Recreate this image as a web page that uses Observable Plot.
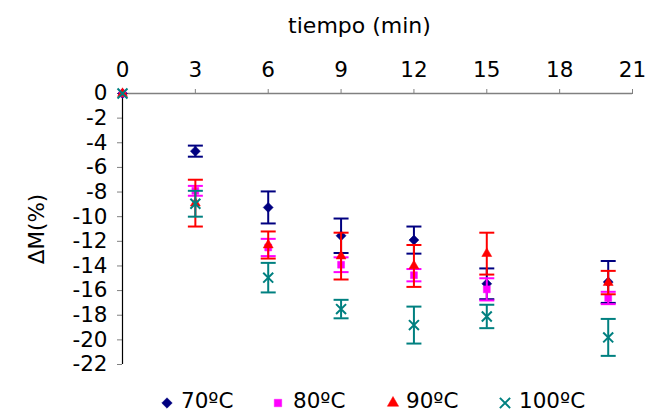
<!DOCTYPE html>
<html>
<head>
<meta charset="utf-8">
<script src="https://cdn.jsdelivr.net/npm/d3@7"></script>
<script src="https://cdn.jsdelivr.net/npm/@observablehq/plot@0.6"></script>
<style>
  body { margin: 0; background: #fff; font-family: "DejaVu Sans", Verdana, sans-serif; }
  #legend { position: relative; width: 646px; height: 28px; font-size: 21.5px; color: #000; }
  #legend .sym { position: absolute; top: 11px; width: 14px; height: 14px; }
  #legend .lab { position: absolute; top: 3px; line-height: 26px; white-space: nowrap; }
</style>
</head>
<body>
<div id="chart"></div>
<div id="legend"></div>
<script>
const times = [0, 3, 6, 9, 12, 15, 20];
const seriesNames = ["70ºC", "80ºC", "90ºC", "100ºC"];
const m70 = [0, -4.68, -9.25, -11.55, -11.9, -15.45, -15.3];
const e70 = [0, 0.45, 1.3, 1.4, 1.1, 1.25, 1.7];
const m80 = [0, -7.9, -12.5, -13.9, -14.75, -15.9, -16.6];
const e80 = [0, 0.4, 0.7, 0.6, 0.5, 0.9, 0.5];
const m90 = [0, -8.9, -12.3, -13.2, -14.0, -13.0, -15.35];
const e90 = [0, 1.9, 1.1, 1.9, 1.7, 1.7, 0.95];
const m100 = [0, -8.95, -14.95, -17.5, -18.8, -18.1, -19.8];
const e100 = [0, 1.05, 1.2, 0.75, 1.5, 0.95, 1.5];
const xTicks = [0, 3, 6, 9, 12, 15, 18, 21];
const yTicks = [0, -2, -4, -6, -8, -10, -12, -14, -16, -18, -20, -22];
const xTitle = "tiempo (min)";
const yTitle = "ΔM(%)";

const colors = ["#000080", "#FF00FF", "#FF0000", "#008080"];
const symbols = ["diamond2", "square", "triangle", "times"];
const sizes = [4.5, 3.9, 3.7, 4.6];
const means = [m70, m80, m90, m100];
const errs = [e70, e80, e90, e100];

const capSymbol = {
  draw(ctx, size) {
    const w = 7.5;
    ctx.moveTo(-w, 0);
    ctx.lineTo(w, 0);
  }
};

const marks = [];
marks.push(Plot.ruleY([0], {stroke: "#808080", strokeWidth: 1.5}));
marks.push(Plot.ruleX([0], {stroke: "#000", strokeWidth: 1.2}));

seriesNames.forEach((name, s) => {
  const rows = times.map((t, i) => ({t, v: means[s][i], e: errs[s][i]}));
  const withErr = rows.filter(d => d.e > 0);
  marks.push(Plot.ruleX(withErr, {x: "t", y1: d => d.v - d.e, y2: d => d.v + d.e, stroke: colors[s], strokeWidth: 2}));
  marks.push(Plot.dot(withErr, {x: "t", y: d => d.v + d.e, symbol: capSymbol, stroke: colors[s], strokeWidth: 2, r: 4}));
  marks.push(Plot.dot(withErr, {x: "t", y: d => d.v - d.e, symbol: capSymbol, stroke: colors[s], strokeWidth: 2, r: 4}));
  const filled = symbols[s] !== "times";
  marks.push(Plot.dot(rows, {
    x: "t", y: "v", symbol: symbols[s], r: sizes[s],
    fill: filled ? colors[s] : "none",
    stroke: colors[s], strokeWidth: filled ? 0.5 : 2
  }));
});

const chart = Plot.plot({
  width: 646,
  height: 385,
  marginLeft: 122,
  marginRight: 14,
  marginTop: 93,
  marginBottom: 21,
  style: {fontFamily: "DejaVu Sans, Verdana, sans-serif", fontSize: "21.5px", color: "#000", background: "#fff"},
  x: {domain: [0, 21]},
  y: {domain: [-22, 0]},
  marks: [
    Plot.axisX({anchor: "top", ticks: xTicks, tickSize: 5, tickPadding: 12, stroke: "#808080",
      label: null, fill: "#000"}),
    Plot.text([xTitle], {frameAnchor: "top", text: d => d, dx: -18, dy: -76, fontSize: 22, fill: "#000"}),
    Plot.axisY({anchor: "left", ticks: yTicks, tickSize: 5, tickPadding: 10, stroke: "#808080",
      tickFormat: d => d === 0 ? "0" : "-" + Math.abs(d),
      label: yTitle, labelAnchor: "center", labelArrow: "none", labelOffset: 94, fill: "#000"}),
    ...marks
  ]
});
document.getElementById("chart").appendChild(chart);

// legend
const legend = document.getElementById("legend");
const symX = [167, 278, 393, 505];
const labX = [181, 293, 406, 519];
seriesNames.forEach((name, s) => {
  const sv = d3.create("svg").attr("class", "sym").attr("width", 14).attr("height", 14)
    .style("left", (symX[s] - 7) + "px");
  const sym = d3.symbol().type(
    s === 0 ? d3.symbolDiamond2 : s === 1 ? d3.symbolSquare : s === 2 ? d3.symbolTriangle : d3.symbolTimes
  ).size(s === 0 ? 70 : s === 1 ? 55 : s === 2 ? 55 : 70);
  sv.append("path").attr("transform", "translate(7,7)").attr("d", sym())
    .attr("fill", s === 3 ? "none" : colors[s])
    .attr("stroke", colors[s]).attr("stroke-width", s === 3 ? 2 : 0.5);
  legend.appendChild(sv.node());
  const span = document.createElement("span");
  span.className = "lab";
  span.style.left = labX[s] + "px";
  span.textContent = name;
  legend.appendChild(span);
});
</script>
</body>
</html>
